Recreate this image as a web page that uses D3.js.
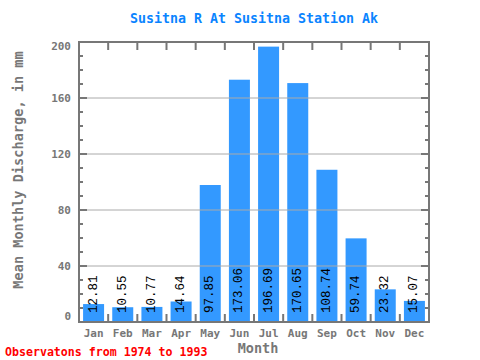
<!DOCTYPE html>
<html><head><meta charset="utf-8">
<script src="https://cdn.jsdelivr.net/npm/d3@7"></script>
<style>body{margin:0;background:#fff}svg{display:block}</style>
</head><body>
<svg id="c" width="480" height="360"></svg>
<script>
const months = ["Jan","Feb","Mar","Apr","May","Jun","Jul","Aug","Sep","Oct","Nov","Dec"];
const discharge = [12.81,10.55,10.77,14.64,97.85,173.06,196.69,170.65,108.74,59.74,23.32,15.07];
const yTicks = [0,40,80,120,160,200];
const titleText = "Susitna R At Susitna Station Ak";
const yLabel = "Mean Monthly Discharge, in mm";
const xLabel = "Month";
const footText = "Observatons from 1974 to 1993";

const svg = d3.select("#c");
const L=79,R=429,T=42,B=322;
const font = "'DejaVu Sans Mono', 'Liberation Mono', monospace";
const valFont = "'Liberation Mono', 'Courier New', monospace";
const axisCol = "#777";

const x = d3.scaleBand().domain(months).range([L,R]).paddingInner(0.28).paddingOuter(0.14);
const y = d3.scaleLinear().domain([0,200]).range([B,T]);

// bars
svg.append("g").selectAll("rect").data(discharge).join("rect")
  .attr("x",(d,i)=>x(months[i])).attr("width",x.bandwidth())
  .attr("y",d=>y(d)).attr("height",d=>B-y(d))
  .attr("fill","#3399ff");

// gridlines
svg.append("g").selectAll("line").data(yTicks.filter(v=>v>0&&v<200)).join("line")
  .attr("x1",L).attr("x2",R).attr("y1",d=>y(d)).attr("y2",d=>y(d))
  .attr("stroke","#aaa").attr("stroke-width",1);

// value labels
svg.append("g").selectAll("text").data(discharge).join("text")
  .attr("transform",(d,i)=>`translate(${x(months[i])+x.bandwidth()/2},${B-9}) rotate(-90)`)
  .attr("dominant-baseline","central")
  .attr("font-family",valFont).attr("font-size",12.5).attr("fill","#000")
  .text(d=>d.toFixed(2));

// axes with ticks
const minor = d3.range(0,201,10);
const gAx = svg.append("g").attr("stroke",axisCol).attr("stroke-width",2);
minor.forEach(v=>{
  const len = v%40===0 ? 8 : 4;
  gAx.append("line").attr("x1",L).attr("x2",L+len).attr("y1",y(v)).attr("y2",y(v));
  gAx.append("line").attr("x1",R).attr("x2",R-len).attr("y1",y(v)).attr("y2",y(v));
});
const bounds = d3.range(0,months.length+1).map(i=>L+i*x.step());
bounds.forEach(xx=>{
  gAx.append("line").attr("x1",xx).attr("x2",xx).attr("y1",T).attr("y2",T+8);
  gAx.append("line").attr("x1",xx).attr("x2",xx).attr("y1",B).attr("y2",B-8);
});
svg.append("rect").attr("x",L).attr("y",T).attr("width",R-L).attr("height",B-T)
  .attr("fill","none").attr("stroke",axisCol).attr("stroke-width",2);

// y tick labels
svg.append("g").selectAll("text").data(yTicks).join("text")
  .attr("x",71).attr("y",d=> d===0 ? y(d)-6 : d===200 ? y(d)+4 : y(d))
  .attr("text-anchor","end").attr("dominant-baseline","central")
  .attr("font-family",font).attr("font-size",11).attr("font-weight","bold").attr("fill","#777")
  .text(d=>d);

// x tick labels
svg.append("g").selectAll("text").data(months).join("text")
  .attr("x",d=>x(d)+x.bandwidth()/2).attr("y",333)
  .attr("text-anchor","middle").attr("dominant-baseline","central")
  .attr("font-family",font).attr("font-size",11).attr("font-weight","bold").attr("fill","#777")
  .text(d=>d);

// title
svg.append("text").attr("x",(L+R)/2).attr("y",18).attr("text-anchor","middle")
  .attr("dominant-baseline","central")
  .attr("font-family",font).attr("font-size",13.3).attr("font-weight","bold").attr("fill","#0a84ff")
  .text(titleText);

// axis titles
svg.append("text").attr("x",258).attr("y",348).attr("text-anchor","middle")
  .attr("dominant-baseline","central")
  .attr("font-family",font).attr("font-size",13.5).attr("font-weight","bold").attr("fill","#777")
  .text(xLabel);
svg.append("text").attr("transform","translate(18,170) rotate(-90)").attr("text-anchor","middle")
  .attr("dominant-baseline","central")
  .attr("font-family",font).attr("font-size",13.6).attr("font-weight","bold").attr("fill","#777")
  .text(yLabel);

// footer
svg.append("text").attr("x",5).attr("y",352).attr("dominant-baseline","central")
  .attr("font-family",font).attr("font-size",11.6).attr("font-weight","bold").attr("fill","#ff0000")
  .text(footText);
</script>
</body></html>
